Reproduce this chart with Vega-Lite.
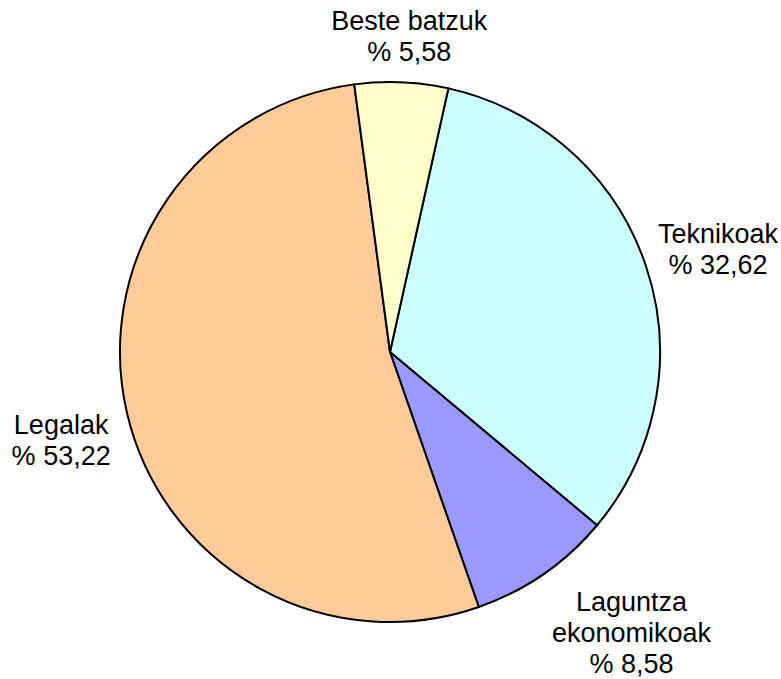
{
  "$schema": "https://vega.github.io/schema/vega-lite/v6.json",
  "width": 780,
  "height": 704,
  "autosize": "none",
  "padding": 0,
  "background": "white",
  "config": {"view": {"stroke": null}, "text": {"font": "Liberation Sans", "fontSize": 27, "lineHeight": 31, "lineBreak": "\n", "align": "center", "baseline": "middle", "color": "black"}},
  "data": {
    "values": [
      {"idx": 1, "cat": "Teknikoak", "value": 32.62, "label": "Teknikoak\n% 32,62"},
      {"idx": 2, "cat": "Laguntza ekonomikoak", "value": 8.58, "label": "Laguntza\nekonomikoak\n% 8,58"},
      {"idx": 3, "cat": "Legalak", "value": 53.22, "label": "Legalak\n% 53,22"},
      {"idx": 4, "cat": "Beste batzuk", "value": 5.58, "label": "Beste batzuk\n% 5,58"}
    ]
  },
  "encoding": {
    "theta": {"field": "value", "type": "quantitative", "stack": true, "scale": {"range": [0.218, 6.501]}},
    "order": {"field": "idx", "type": "quantitative"}
  },
  "layer": [
    {
      "mark": {"type": "arc", "outerRadius": 270, "stroke": "black", "strokeWidth": 2},
      "encoding": {
        "color": {
          "field": "cat", "type": "nominal", "legend": null,
          "scale": {"domain": ["Teknikoak", "Laguntza ekonomikoak", "Legalak", "Beste batzuk"],
                    "range": ["#CCFFFF", "#9999FF", "#FFCC99", "#FFFFCC"]}
        }
      }
    },
    {
      "mark": {"type": "text", "radius": 336, "dx": 10, "dy": -8.5},
      "encoding": {
        "text": {"condition": {"test": "datum.cat !== 'Teknikoak'", "value": ""}, "field": "label"}
      }
    },
    {
      "mark": {"type": "text", "radius": 336, "dx": 5, "dy": 5.5},
      "encoding": {
        "text": {"condition": {"test": "datum.cat !== 'Beste batzuk'", "value": ""}, "field": "label"}
      }
    },
    {
      "mark": {"type": "text", "radius": 336, "dx": -2, "dy": -3.5},
      "encoding": {
        "text": {"condition": {"test": "datum.cat !== 'Legalak'", "value": ""}, "field": "label"}
      }
    },
    {
      "mark": {"type": "text", "radius": 372, "dx": 30, "dy": -55},
      "encoding": {
        "text": {"condition": {"test": "datum.cat !== 'Laguntza ekonomikoak'", "value": ""}, "field": "label"}
      }
    }
  ]
}
